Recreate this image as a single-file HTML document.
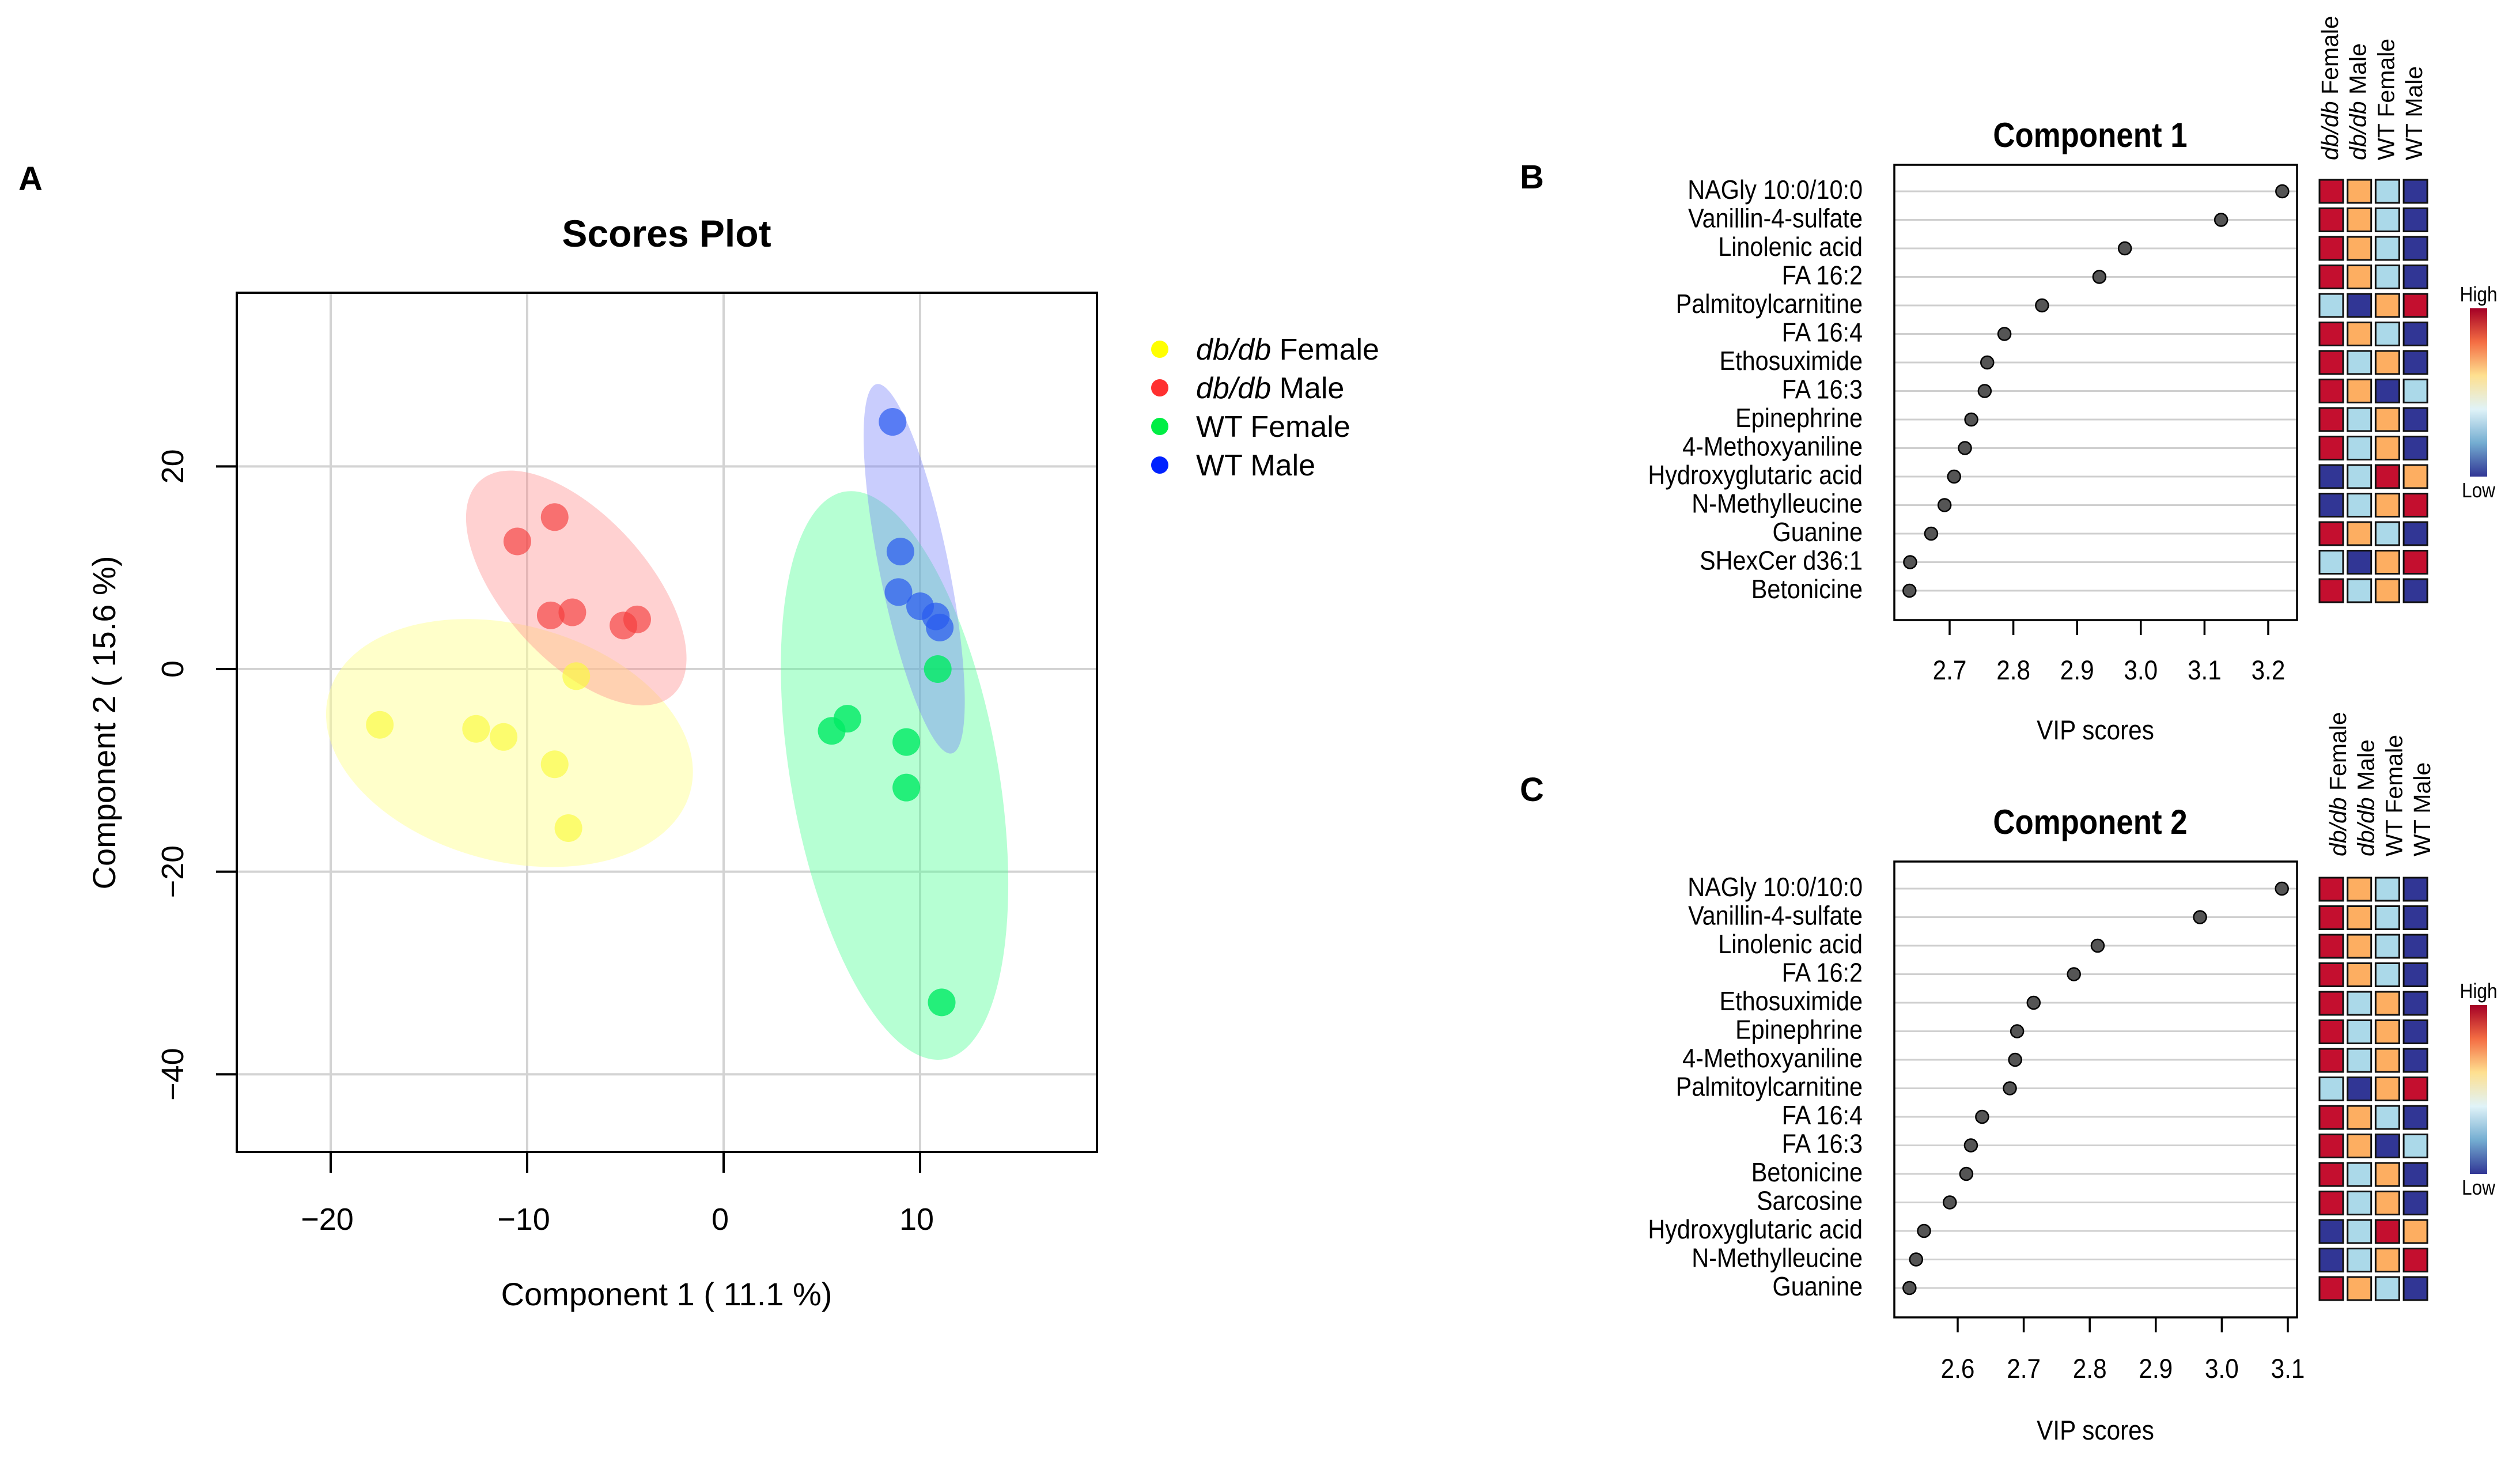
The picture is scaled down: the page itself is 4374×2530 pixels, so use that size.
<!DOCTYPE html>
<html><head><meta charset="utf-8"><style>
html,body{margin:0;padding:0;background:#fff}
svg{display:block;font-family:"Liberation Sans",sans-serif}
</style></head><body>
<svg id="fig" width="4374" height="2530" viewBox="0 0 4374 2530" xmlns="http://www.w3.org/2000/svg">
<g id="pA"></g>
<g id="pB"></g>
<g id="pC"></g>
</svg>
<script>
// ---------- Scores plot data ----------
const groups = ["db/db Female","db/db Male","WT Female","WT Male"];
const yellowX = [-17.5,-12.6,-11.2,-8.6,-7.9,-7.5];
const yellowY = [-5.5,-5.9,-6.7,-9.4,-15.7,-0.7];
const redX = [-10.5,-8.6,-8.8,-7.7,-5.1,-4.4];
const redY = [12.6,15.0,5.3,5.6,4.3,4.9];
const greenX = [5.5,6.3,9.3,9.3,10.9,11.1];
const greenY = [-6.1,-4.9,-7.2,-11.7,0.0,-32.9];
const blueX = [8.6,9.0,8.9,10.0,10.8,11.0];
const blueY = [24.4,11.6,7.6,6.2,5.2,4.1];
const ellipseCX = [-10.9,-7.5,8.7,9.7];
const ellipseCY = [-7.3,8.0,-10.5,9.9];
const xTicksA = [-20,-10,0,10];
const yTicksA = [-40,-20,0,20];

// ---------- VIP data ----------
const namesB = ["NAGly 10:0/10:0","Vanillin-4-sulfate","Linolenic acid","FA 16:2","Palmitoylcarnitine","FA 16:4","Ethosuximide","FA 16:3","Epinephrine","4-Methoxyaniline","Hydroxyglutaric acid","N-Methylleucine","Guanine","SHexCer d36:1","Betonicine"];
const vipB = [3.222,3.126,2.975,2.935,2.845,2.786,2.759,2.755,2.734,2.724,2.707,2.692,2.671,2.638,2.637];
const heatB = ["ROLD","ROLD","ROLD","ROLD","LDOR","ROLD","RLOD","RODL","RLOD","RLOD","DLRO","DLOR","ROLD","LDOR","RLOD"];
const ticksB = [2.7,2.8,2.9,3.0,3.1,3.2];
const namesC = ["NAGly 10:0/10:0","Vanillin-4-sulfate","Linolenic acid","FA 16:2","Ethosuximide","Epinephrine","4-Methoxyaniline","Palmitoylcarnitine","FA 16:4","FA 16:3","Betonicine","Sarcosine","Hydroxyglutaric acid","N-Methylleucine","Guanine"];
const vipC = [3.091,2.967,2.812,2.776,2.715,2.690,2.687,2.679,2.637,2.620,2.613,2.588,2.549,2.537,2.527];
const heatC = ["ROLD","ROLD","ROLD","ROLD","RLOD","RLOD","RLOD","LDOR","ROLD","RODL","RLOD","RLOD","DLRO","DLOR","ROLD"];
const ticksC = [2.6,2.7,2.8,2.9,3.0,3.1];

const NS="http://www.w3.org/2000/svg";
function mk(parent,tag,attrs,text){const e=document.createElementNS(NS,tag);for(const k in attrs)e.setAttribute(k,attrs[k]);if(text!==undefined)e.textContent=text;parent.appendChild(e);return e;}

// ---------- Panel A ----------
const A=document.getElementById('pA');
const ax=v=>1256+v*34.1, ay=v=>1161-v*17.58;
const L=411,R=1904,T=508,B=1999;
let t=mk(A,'text',{x:32,y:330,'font-size':58,'font-weight':'bold'},'A');

t=mk(A,'text',{x:1157,y:428,'font-size':66,'font-weight':'bold','text-anchor':'middle'},'Scores Plot');

xTicksA.forEach(v=>{let l=mk(A,'line',{x1:ax(v),x2:ax(v),y1:T,y2:B,stroke:'#d3d3d3','stroke-width':4});
});
yTicksA.forEach(v=>{let l=mk(A,'line',{x1:L,x2:R,y1:ay(v),y2:ay(v),stroke:'#d3d3d3','stroke-width':4});
});
const ellR=[[325,205,15],[250,125,48],[180,500,-10],[60,327,-11.5]];
const ellFill=['rgba(255,255,150,0.5)','rgba(255,140,140,0.4)','rgba(80,255,150,0.42)','rgba(120,130,250,0.4)'];
const ellNames=['ellipse-dbdb-female','ellipse-dbdb-male','ellipse-wt-female','ellipse-wt-male'];
for(let i=0;i<4;i++){const cx=ax(ellipseCX[i]),cy=ay(ellipseCY[i]);
let e=mk(A,'ellipse',{cx:cx,cy:cy,rx:ellR[i][0],ry:ellR[i][1],fill:ellFill[i],transform:`rotate(${ellR[i][2]} ${cx} ${cy})`});
}
const ptSets=[[yellowX,yellowY,'rgba(250,250,60,0.65)','point-dbdb-female'],[redX,redY,'rgba(245,60,60,0.65)','point-dbdb-male'],[greenX,greenY,'rgba(0,235,100,0.8)','point-wt-female'],[blueX,blueY,'rgba(40,90,240,0.7)','point-wt-male']];
ptSets.forEach(s=>{s[0].forEach((xv,j)=>{let c=mk(A,'circle',{cx:ax(xv),cy:ay(s[1][j]),r:24,fill:s[2]});
});});
let bx=mk(A,'rect',{x:L,y:T,width:R-L,height:B-T,fill:'none',stroke:'#000','stroke-width':4});

xTicksA.forEach(v=>{let l=mk(A,'line',{x1:ax(v),x2:ax(v),y1:B,y2:B+36,stroke:'#000','stroke-width':4});

let tx=mk(A,'text',{x:ax(v)-6,y:2134,'font-size':54,'text-anchor':'middle'},v<0?'\u2212'+(-v):String(v));
});
yTicksA.forEach(v=>{let l=mk(A,'line',{x1:L-36,x2:L,y1:ay(v),y2:ay(v),stroke:'#000','stroke-width':4});

let tx=mk(A,'text',{x:0,y:0,'font-size':54,'text-anchor':'middle',transform:`translate(318 ${ay(v)}) rotate(-90)`},v<0?'\u2212'+(-v):String(v));
});
t=mk(A,'text',{x:1157,y:2265,'font-size':56,'text-anchor':'middle'},'Component 1 ( 11.1 %)');

t=mk(A,'text',{x:0,y:0,'font-size':56,'text-anchor':'middle',transform:'translate(200 1254) rotate(-90)'},'Component 2 ( 15.6 %)');

const legCol=['#ffff00','#ff3030','#00ee44','#0022ff'];
groups.forEach((g,i)=>{const y=606+i*67;
let c=mk(A,'circle',{cx:2013,cy:y,r:15,fill:legCol[i]});
let tx=mk(A,'text',{x:2076,y:y+18,'font-size':52});
if(g.startsWith('db/db')){mk(tx,'tspan',{'font-style':'italic'},'db/db');mk(tx,'tspan',{},g.slice(5));}else tx.textContent=g;});

// ---------- VIP panels ----------
const COL={R:'#c40f2f',O:'#fdae61',L:'#abd9e9',D:'#313695'};
function vip(G,cfg){
 const {names,vals,heat,ticks,top,bot,row0,dy,t0,x0,pxu,letter,title,titleY,tickY,vipY,hdrX,hdrY,cellY0,cbT,cbB}=cfg;
 const sx=v=>x0+(v-t0)*pxu;
 let t=mk(G,'text',{x:2638,y:letter,'font-size':58,'font-weight':'bold'},cfg.lab);
 
 t=mk(G,'text',{x:0,y:0,'font-size':60,'font-weight':'bold','text-anchor':'middle',transform:`translate(3628 ${titleY}) scale(0.88 1)`},title);
 
 names.forEach((n,i)=>{const y=row0+i*dy;
  let l=mk(G,'line',{x1:3288,x2:3987,y1:y,y2:y,stroke:'#cfcfcf','stroke-width':3});
  let tx=mk(G,'text',{x:0,y:0,'font-size':46,'text-anchor':'end',transform:`translate(3233 ${y+13}) scale(0.9 1)`},n);
  
  let c=mk(G,'circle',{cx:sx(vals[i]),cy:y,r:11,fill:'#555','stroke':'#000','stroke-width':2.5});
  
  heat[i].split('').forEach((k,j)=>{let r=mk(G,'rect',{x:4026+j*48.7,y:cellY0+i*dy,width:41,height:40,fill:COL[k],stroke:'#111','stroke-width':3});
   });
 });
 let b=mk(G,'rect',{x:3288,y:top,width:699,height:bot-top,fill:'none',stroke:'#000','stroke-width':3.5});
 
 ticks.forEach(v=>{let l=mk(G,'line',{x1:sx(v),x2:sx(v),y1:bot,y2:bot+26,stroke:'#000','stroke-width':3.5});
  
  let tx=mk(G,'text',{x:0,y:0,'font-size':47,'text-anchor':'middle',transform:`translate(${sx(v)} ${tickY}) scale(0.9 1)`},v.toFixed(1));
  });
 t=mk(G,'text',{x:0,y:0,'font-size':47,'text-anchor':'middle',transform:`translate(3637 ${vipY}) scale(0.9 1)`},'VIP scores');
 
 groups.forEach((g,j)=>{let tx=mk(G,'text',{x:0,y:0,'font-size':41,transform:`translate(${hdrX+j*48.7} ${hdrY}) rotate(-90)`});
  
  if(g.startsWith('db/db')){mk(tx,'tspan',{'font-style':'italic'},'db/db');mk(tx,'tspan',{},g.slice(5));}else tx.textContent=g;});
 const gid='cb'+cfg.lab;
 const d=mk(G,'defs',{});const lg=mk(d,'linearGradient',{id:gid,x1:0,y1:0,x2:0,y2:1});
 ['#a50026','#f46d43','#fee090','#e0f3f8','#74add1','#313695'].forEach((c,k)=>mk(lg,'stop',{offset:k/5,'stop-color':c}));
 let cb=mk(G,'rect',{x:4287,y:cbT,width:30,height:cbB-cbT,fill:`url(#${gid})`});
 t=mk(G,'text',{x:0,y:0,'font-size':36,'text-anchor':'middle',transform:`translate(4302 ${cbT-12}) scale(0.88 1)`},'High');
 t=mk(G,'text',{x:0,y:0,'font-size':36,'text-anchor':'middle',transform:`translate(4302 ${cbB+36}) scale(0.88 1)`},'Low');
}
vip(document.getElementById('pB'),{lab:'B',names:namesB,vals:vipB,heat:heatB,ticks:ticksB,top:286,bot:1076,row0:332,dy:49.5,t0:2.7,x0:3384,pxu:1106,letter:327,title:'Component 1',titleY:255,tickY:1179,vipY:1283,hdrX:4058,hdrY:278,cellY0:312,cbT:535,cbB:827});
vip(document.getElementById('pC'),{lab:'C',names:namesC,vals:vipC,heat:heatC,ticks:ticksC,top:1495,bot:2286,row0:1542,dy:49.5,t0:2.6,x0:3398,pxu:1146,letter:1390,title:'Component 2',titleY:1447,tickY:2391,vipY:2498,hdrX:4072,hdrY:1486,cellY0:1523,cbT:1744,cbB:2037});
</script>
</body></html>
